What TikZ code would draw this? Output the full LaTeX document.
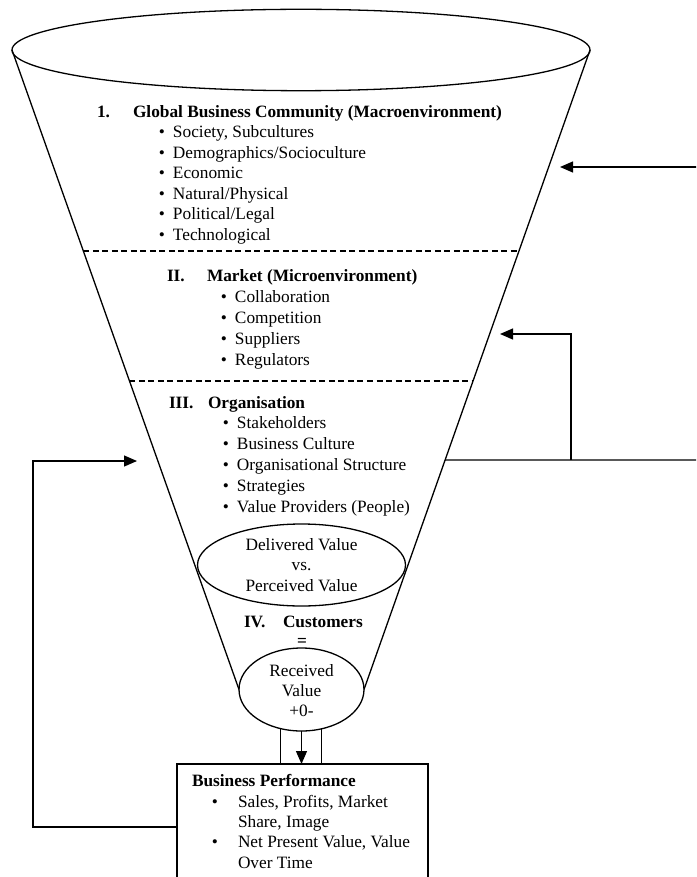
\documentclass[tikz,border=0pt]{standalone}
\usepackage{fontspec}
\setmainfont{Liberation Serif}
\usetikzlibrary{shapes.geometric,arrows.meta,calc}
\begin{document}
\begin{tikzpicture}[x=1pt,y=-1pt,
  line width=1.3pt,
  every node/.style={inner sep=0pt, outer sep=0pt},
  txt/.style={anchor=base west, font=\fontsize{17.3}{20}\selectfont},
  hd/.style={anchor=base west, font=\fontsize{17.3}{20}\selectfont\bfseries},
  ctr/.style={anchor=base, font=\fontsize{17.3}{20}\selectfont},
  ctrb/.style={anchor=base, font=\fontsize{17.3}{20}\selectfont\bfseries},
  bul/.style={txt, execute at begin node={\llap{•\hspace{8pt}}}},
  bbul/.style={txt, execute at begin node={\llap{•\hspace{20pt}}}},
  ring/.style={draw, ellipse},
  sep/.style={dash pattern=on 6pt off 3.5pt, line width=1.1pt},
  arr/.style={-{Triangle[length=13pt,width=11pt]}},
]
\useasboundingbox (0,0) rectangle (696,877);
\clip (0,0) rectangle (696,877);

% funnel rims
\node[ring, minimum width=578pt, minimum height=81.4pt] (top) at (301,50) {};
\node[ring, minimum width=208pt, minimum height=82pt] (deliv) at (301.5,565) {};
\node[ring, minimum width=125pt, minimum height=83pt] (recv) at (301.5,689.5) {};

% funnel sides
\draw (top.west) -- (recv.west);
\draw (top.east) -- (recv.east);

% level separators
\coordinate (d1L) at ($(top.west)!0.3143!(recv.west)$);
\coordinate (d1R) at ($(top.east)!0.3143!(recv.east)$);
\coordinate (d2L) at ($(top.west)!0.5176!(recv.west)$);
\coordinate (d2R) at ($(top.east)!0.5176!(recv.east)$);
\draw[sep] (d1L) -- (d1R);
\draw[sep] (d2L) -- (d2R);

% level I
\node[hd] (n1) at (97,117.5) {1.};
\node[hd] (h1) at (133,117.5) {Global Business Community (Macroenvironment)};
\foreach \t [count=\i] in {{Society, Subcultures}, Demographics/Socioculture, Economic,
    Natural/Physical, Political/Legal, Technological}
  \node[bul] (g\i) at (173,117.5+20.5*\i) {\t};

% level II
\node[hd] (n2) at (167,281) {II.};
\node[hd] (h2) at (207,281) {Market (Microenvironment)};
\foreach \t [count=\i] in {Collaboration, Competition, Suppliers, Regulators}
  \node[bul] (m\i) at (235,281+21*\i) {\t};

% level III
\node[hd] (n3) at (169,408) {III.};
\node[hd] (h3) at (208,408) {Organisation};
\foreach \t [count=\i] in {Stakeholders, Business Culture, Organisational Structure,
    Strategies, Value Providers (People)}
  \node[bul] (o\i) at (237,408+20.9*\i) {\t};

% delivered vs perceived value
\node[ctr] (dv1) at (301.5,550) {Delivered Value};
\node[ctr] (dv2) at (301.5,570.7) {vs.};
\node[ctr] (dv3) at (301.5,591.7) {Perceived Value};

% level IV
\node[hd] (n4) at (244,627.7) {IV.};
\node[hd] (h4) at (283,627.7) {Customers};
\node[ctrb] (eq) at (302,646) {=};
\node[ctr] (rv1) at (301.5,676.7) {Received};
\node[ctr] (rv2) at (301.5,696.7) {Value};
\node[ctr] (rv3) at (301.5,716.7) {+0-};

% business performance box
\node[draw, anchor=north west, minimum width=251pt, minimum height=140pt] (perf) at (177,764) {};
\node[hd] (bp) at (192,786.7) {Business Performance};
\node[bbul] (bp1) at (238,807) {Sales, Profits, Market};
\node[txt] (bp1b) at (238,827.4) {Share, Image};
\node[bbul] (bp2) at (238,847.8) {Net Present Value, Value};
\node[txt] (bp2b) at (238,868) {Over Time};

% link from received value to performance
\draw (recv.242.4) -- (recv.242.4 |- perf.north);
\draw (recv.297.6) -- (recv.297.6 |- perf.north);
\draw[arr] (recv.south) -- (recv.south |- perf.north);

% feedback paths
\coordinate (inI) at (700,167);
\coordinate (tipI) at (560,167);
\draw[arr] (inI) -- (tipI);

\coordinate (orgR) at ($(top.east)!0.6411!(recv.east)$);
\coordinate (outR) at (700,460);
\coordinate (brR) at (571,460);
\coordinate (tipII) at (500,334);
\draw (orgR) -- (outR);
\draw[arr] (brR) |- (tipII);

\coordinate (fbL) at ($(perf.north west)+(0,63)$);
\coordinate (cL) at (33,827);
\coordinate (tipIII) at (137,461);
\draw[arr] (fbL) -- (cL) |- (tipIII);
\end{tikzpicture}
\end{document}
